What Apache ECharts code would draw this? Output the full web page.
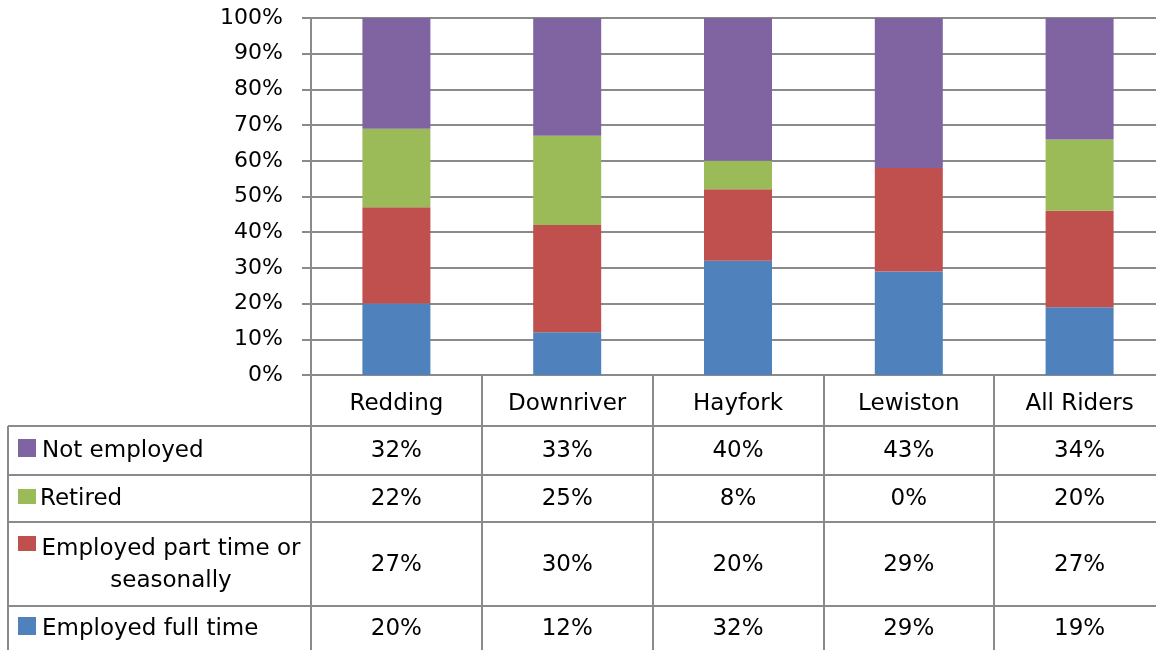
<!DOCTYPE html>
<html>
<head>
<meta charset="utf-8">
<script src="https://cdn.jsdelivr.net/npm/echarts@6/dist/echarts.min.js"></script>
<style>
  html, body { margin: 0; padding: 0; background: #fff; overflow: hidden; }
  /* the last column runs a little past the right edge of the window */
  #chart { width: 1165px; height: 650px; }
</style>
</head>
<body>
<div id="chart"></div>
<script>
// Employment status of riders by area (percent of respondents)
const categories = ['Redding', 'Downriver', 'Hayfork', 'Lewiston', 'All Riders'];
const fullTime = [20, 12, 32, 29, 19];
const partTime = [27, 30, 20, 29, 27];
const retired = [22, 25, 8, 0, 20];
const notEmployed = [32, 33, 40, 43, 34];

const seriesNames = ['Employed full time', 'Employed part time or seasonally', 'Retired', 'Not employed'];
const seriesValues = [fullTime, partTime, retired, notEmployed];
const seriesColors = ['#4F81BD', '#C0504D', '#9BBB59', '#8064A2'];

const FONT = 'DejaVu Sans';
const FONT_SIZE = 23;
const GRID_COLOR = '#8a8a8a';
const WIDTH = 1165;

const chart = echarts.init(document.getElementById('chart'), null, { renderer: 'canvas' });

chart.setOption({
  animation: false,
  backgroundColor: '#fff',
  textStyle: { fontFamily: FONT },
  grid: { left: 311, top: 18, right: 0, height: 357, containLabel: false },
  xAxis: {
    type: 'category',
    data: categories,
    axisLine: { show: true, lineStyle: { color: GRID_COLOR, width: 2 } },
    axisTick: { show: true, alignWithLabel: false, length: 275, lineStyle: { color: GRID_COLOR, width: 2 } },
    axisLabel: { margin: 29, fontSize: FONT_SIZE, color: '#000', fontFamily: FONT, verticalAlign: 'middle' },
    splitLine: { show: false }
  },
  yAxis: {
    type: 'value',
    min: 0,
    max: 100,
    interval: 10,
    axisLine: { show: true, lineStyle: { color: GRID_COLOR, width: 2 } },
    axisTick: { show: true, length: 9, lineStyle: { color: GRID_COLOR, width: 2 } },
    axisLabel: { margin: 28, fontSize: 22, color: '#000', fontFamily: FONT, formatter: '{value}%' },
    splitLine: { show: true, lineStyle: { color: GRID_COLOR, width: 2 } }
  },
  series: seriesNames.map((name, i) => ({
    name: name,
    type: 'bar',
    stack: 'total',
    barWidth: 68,
    clip: true,
    itemStyle: { color: seriesColors[i] },
    data: seriesValues[i]
  }))
});

// Data table under the plot: one row per series, top row is the top of the stack
const tableRows = [
  { idx: 3, y: 451, swatch: [18, 439, 18, 18], label: 'Not employed', lx: 42, align: 'left' },
  { idx: 2, y: 499, swatch: [18, 489, 18, 15], label: 'Retired', lx: 40, align: 'left' },
  { idx: 1, y: 565, swatch: [18, 536, 18, 15], label: 'Employed part time or\nseasonally', lx: 171, align: 'center' },
  { idx: 0, y: 629, swatch: [18, 617, 18, 18], label: 'Employed full time', lx: 42, align: 'left' }
];
const rowLines = [426, 475, 522, 606];

const colX = categories.map((c) => chart.convertToPixel({ xAxisIndex: 0 }, c));

const elements = [];
rowLines.forEach((y) => {
  elements.push({
    type: 'line', silent: true,
    shape: { x1: 8, y1: y, x2: WIDTH, y2: y },
    style: { stroke: GRID_COLOR, lineWidth: 2 }
  });
});
elements.push({
  type: 'line', silent: true,
  shape: { x1: 8, y1: 426, x2: 8, y2: 650 },
  style: { stroke: GRID_COLOR, lineWidth: 2 }
});

tableRows.forEach((row) => {
  elements.push({
    type: 'rect', silent: true,
    shape: { x: row.swatch[0], y: row.swatch[1], width: row.swatch[2], height: row.swatch[3] },
    style: { fill: seriesColors[row.idx] }
  });
  elements.push({
    type: 'text', silent: true,
    x: row.lx, y: row.y,
    style: {
      text: row.label, fill: '#000', font: FONT_SIZE + 'px "' + FONT + '"',
      textAlign: row.align, textVerticalAlign: 'middle', lineHeight: 32
    }
  });
  seriesValues[row.idx].forEach((v, j) => {
    elements.push({
      type: 'text', silent: true,
      x: colX[j], y: row.y,
      style: {
        text: v + '%', fill: '#000', font: FONT_SIZE + 'px "' + FONT + '"',
        textAlign: 'center', textVerticalAlign: 'middle'
      }
    });
  });
});

chart.setOption({ graphic: { elements: elements } });
</script>
</body>
</html>
